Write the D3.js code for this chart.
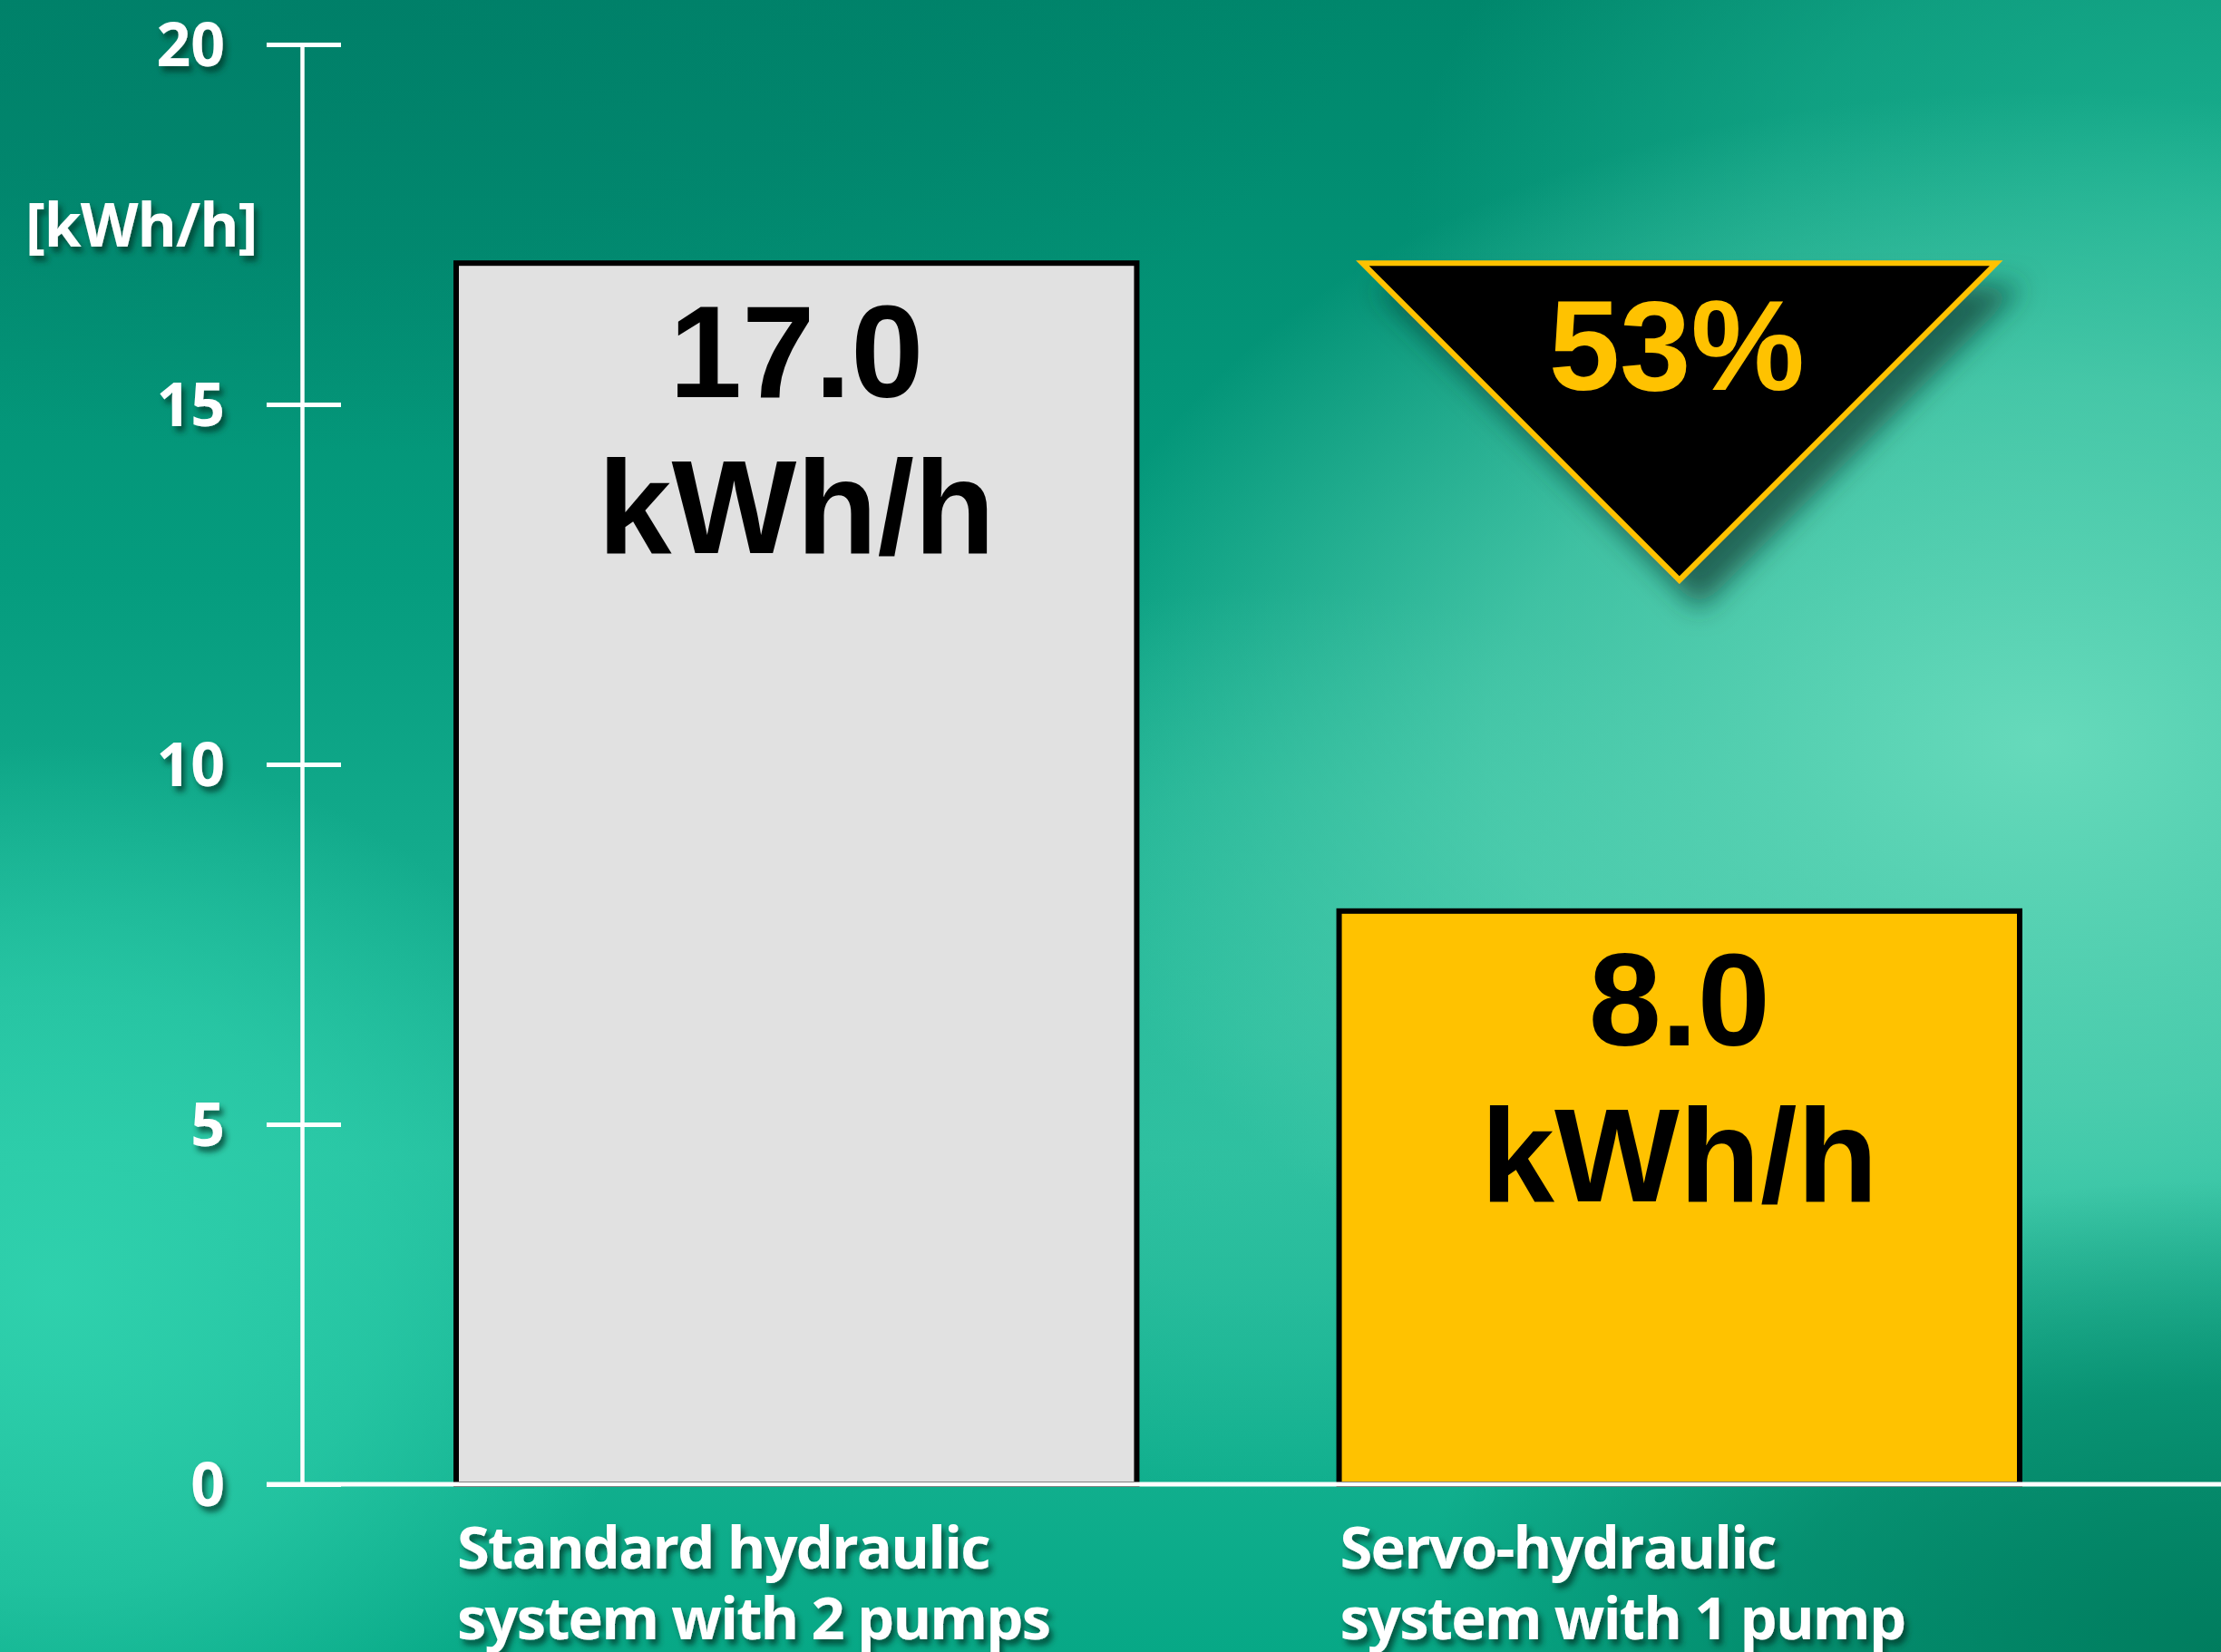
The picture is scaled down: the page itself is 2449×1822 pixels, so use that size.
<!DOCTYPE html>
<html>
<head>
<meta charset="utf-8">
<script src="https://cdn.jsdelivr.net/npm/d3@7/dist/d3.min.js"></script>
<style>
  html, body { margin: 0; padding: 0; overflow: hidden; background: #008a6e; }
  svg { display: block; }
</style>
</head>
<body>
<svg id="chart"></svg>
<script>
// ---- data ----
const categories = [
  ["Standard hydraulic", "system with 2 pumps"],
  ["Servo-hydraulic", "system with 1 pump"]
];
const values = [17.0, 8.0];
const valueLabels = ["17.0", "8.0"];
const valueUnit = "kWh/h";
const barColors = ["#e1e1e1", "#ffc200"];
const yTicks = [0, 5, 10, 15, 20];
const yDomain = [0, 20];
const yUnitLabel = "[kWh/h]";
const savingsLabel = "53%";

// ---- layout ----
const W = 2449, H = 1822;
const svg = d3.select("#chart").attr("width", W).attr("height", H);
const defs = svg.append("defs");

// background gradients
const lg = defs.append("linearGradient").attr("id", "bgLin").attr("x1", 0).attr("y1", 0).attr("x2", 0).attr("y2", 1);
lg.append("stop").attr("offset", "0%").attr("stop-color", "#00876c");
lg.append("stop").attr("offset", "35%").attr("stop-color", "#059c7e");
lg.append("stop").attr("offset", "70%").attr("stop-color", "#22bb9b");
lg.append("stop").attr("offset", "100%").attr("stop-color", "#07a886");

function radial(id, color, op) {
  const r = defs.append("radialGradient").attr("id", id);
  r.append("stop").attr("offset", "0%").attr("stop-color", color).attr("stop-opacity", op);
  r.append("stop").attr("offset", "55%").attr("stop-color", color).attr("stop-opacity", op * 0.6);
  r.append("stop").attr("offset", "100%").attr("stop-color", color).attr("stop-opacity", 0);
}
radial("bgLight", "#66dabb", 1);
radial("bgTopRight", "#20b896", 0.8);
radial("bgLeft", "#30d2ae", 0.95);
radial("bgDark", "#007a5c", 0.95);
radial("bgTopDark", "#007a66", 0.6);
radial("bgMid", "#3cc6a6", 0.6);

svg.append("rect").attr("width", W).attr("height", H).attr("fill", "url(#bgLin)");
svg.append("ellipse").attr("cx", 2449).attr("cy", 250).attr("rx", 900).attr("ry", 600).attr("fill", "url(#bgTopRight)");
svg.append("ellipse").attr("cx", 1400).attr("cy", 1150).attr("rx", 700).attr("ry", 500).attr("fill", "url(#bgMid)");
svg.append("ellipse").attr("cx", 2250).attr("cy", 820).attr("rx", 1100).attr("ry", 720).attr("fill", "url(#bgLight)");
svg.append("ellipse").attr("cx", 60).attr("cy", 1420).attr("rx", 650).attr("ry", 600).attr("fill", "url(#bgLeft)");
svg.append("ellipse").attr("cx", 2449).attr("cy", 1822).attr("rx", 900).attr("ry", 520).attr("fill", "url(#bgDark)");
svg.append("ellipse").attr("cx", 400).attr("cy", 0).attr("rx", 1100).attr("ry", 500).attr("fill", "url(#bgTopDark)");

// filters
const ts = defs.append("filter").attr("id", "txtShadow").attr("x", "-20%").attr("y", "-30%").attr("width", "150%").attr("height", "180%");
ts.append("feDropShadow").attr("dx", 4).attr("dy", 6).attr("stdDeviation", 3)
  .attr("flood-color", "#00362c").attr("flood-opacity", 0.75);
const tri = defs.append("filter").attr("id", "triShadow").attr("x", "-20%").attr("y", "-20%").attr("width", "150%").attr("height", "150%");
tri.append("feDropShadow").attr("dx", 22).attr("dy", 28).attr("stdDeviation", 15)
  .attr("flood-color", "#0b3a30").attr("flood-opacity", 0.7);

// scales
const y = d3.scaleLinear().domain(yDomain).range([1637, 49]);
const x = d3.scaleBand().domain(d3.range(values.length)).range([500, 2230]).paddingInner(0.223).paddingOuter(0);

const axisX = 333;
const tickFont = "'Open Sans', 'Noto Sans', sans-serif";
const bigFont = "'Liberation Sans', Arial, sans-serif";

// bars
const bars = svg.append("g");
bars.selectAll("rect").data(values).join("rect")
  .attr("x", (d, i) => x(i) + 3)
  .attr("y", d => y(d) + 3)
  .attr("width", x.bandwidth() - 6)
  .attr("height", d => y(0) - y(d) - 3)
  .attr("fill", (d, i) => barColors[i])
  .attr("stroke", "#000")
  .attr("stroke-width", 6);

// value labels inside bars
bars.selectAll("text.val").data(values).join("text").attr("class", "val")
  .attr("x", (d, i) => x(i) + x.bandwidth() / 2)
  .attr("y", d => y(d) + 151)
  .attr("text-anchor", "middle")
  .attr("font-family", bigFont).attr("font-weight", "bold").attr("font-size", 144)
  .attr("fill", "#000")
  .text((d, i) => valueLabels[i]);
bars.selectAll("text.unit").data(values).join("text").attr("class", "unit")
  .attr("x", (d, i) => x(i) + x.bandwidth() / 2)
  .attr("y", d => y(d) + 323)
  .attr("text-anchor", "middle")
  .attr("font-family", bigFont).attr("font-weight", "bold").attr("font-size", 146)
  .attr("fill", "#000")
  .text(valueUnit);

// savings triangle above bar 2
const cx2 = x(1) + x.bandwidth() / 2;
const triTop = y(values[0]) + 3;
const halfW = x.bandwidth() * 0.462;
const triG = svg.append("g");
triG.append("path")
  .attr("d", `M${cx2 - halfW},${triTop}L${cx2 + halfW},${triTop}L${cx2},${triTop + halfW}Z`)
  .attr("fill", "#000")
  .attr("stroke", "#ffc200")
  .attr("stroke-width", 6)
  .attr("stroke-linejoin", "miter")
  .attr("filter", "url(#triShadow)");
triG.append("text")
  .attr("x", cx2 - 3)
  .attr("y", triTop + 140)
  .attr("text-anchor", "middle")
  .attr("font-family", bigFont).attr("font-weight", "bold").attr("font-size", 141)
  .attr("fill", "#ffc200")
  .text(savingsLabel);

// y axis
const axisG = svg.append("g").attr("transform", `translate(${axisX},0)`)
  .call(d3.axisLeft(y).tickValues(yTicks).tickSizeOuter(0).tickFormat(d3.format("d")));
axisG.select(".domain").attr("stroke", "#fff").attr("stroke-width", 4.5);
axisG.selectAll(".tick line").attr("x1", -39).attr("x2", 43).attr("stroke", "#fff").attr("stroke-width", 5);
axisG.selectAll(".tick text")
  .attr("x", -85).attr("dy", "0.36em")
  .attr("fill", "#fff")
  .attr("font-family", tickFont).attr("font-weight", "bold").attr("font-size", 66)
  .attr("filter", "url(#txtShadow)");

// baseline
svg.append("line")
  .attr("x1", axisX - 39).attr("x2", W)
  .attr("y1", y(0)).attr("y2", y(0))
  .attr("stroke", "#fff").attr("stroke-width", 5);

// unit label
svg.append("text")
  .attr("x", 28).attr("y", 272)
  .attr("fill", "#fff")
  .attr("font-family", tickFont).attr("font-weight", "bold").attr("font-size", 66)
  .attr("letter-spacing", -1)
  .attr("filter", "url(#txtShadow)")
  .text(yUnitLabel);

// category labels
const cat = svg.append("g");
categories.forEach((lines, i) => {
  const t = cat.append("text")
    .attr("x", x(i) + 4)
    .attr("y", y(0) + 93)
    .attr("fill", "#fff")
    .attr("font-family", tickFont).attr("font-weight", "bold").attr("font-size", 65)
    .attr("letter-spacing", -1.8)
    .attr("filter", "url(#txtShadow)");
  lines.forEach((ln, j) => {
    t.append("tspan").attr("x", x(i) + 4).attr("dy", j === 0 ? 0 : 78).text(ln);
  });
});
</script>
</body>
</html>
